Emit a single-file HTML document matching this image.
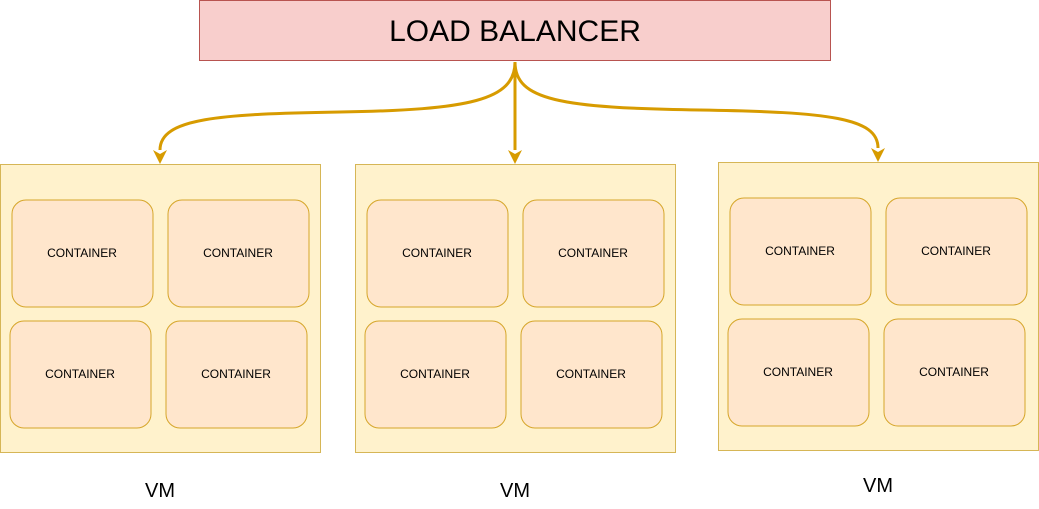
<!DOCTYPE html>
<html><head><style>body{margin:0;background:#fff}</style></head><body>
<svg width="1039" height="504" xmlns="http://www.w3.org/2000/svg" font-family="Liberation Sans, sans-serif">
<rect x="199.5" y="0.5" width="631" height="60" fill="#f8cecc" stroke="#b85450"/>
<text x="515" y="41" font-size="30" text-anchor="middle" fill="#000">LOAD BALANCER</text>
<g fill="none" stroke="#d79b00" stroke-width="3">
<path d="M515,62 C515,100 470,110 340,112 C220,114 160,118 160,150"/>
<path d="M515,62 L515,150"/>
<path d="M515,62 C515,100 560,108 700,110 C830,112 878,118 878,148"/>
</g>
<g fill="#d79b00">
<path d="M153,150 L160,164 L167,150 L160,154 Z"/>
<path d="M508,150 L515,164 L522,150 L515,154 Z"/>
<path d="M871,148 L878,162 L885,148 L878,152 Z"/>
</g>
<g fill="#fff2cc" stroke="#d6b656">
<rect x="0.5" y="164.5" width="320" height="288"/>
<rect x="355.5" y="164.5" width="320" height="288"/>
<rect x="718.5" y="162.5" width="320" height="288"/>
</g>
<g fill="#ffe6cc" stroke="#d6a62a">
<rect x="12" y="200" width="141" height="107" rx="14"/>
<rect x="168" y="200" width="141" height="107" rx="14"/>
<rect x="10" y="321" width="141" height="107" rx="14"/>
<rect x="166" y="321" width="141" height="107" rx="14"/>
<rect x="367" y="200" width="141" height="107" rx="14"/>
<rect x="523" y="200" width="141" height="107" rx="14"/>
<rect x="365" y="321" width="141" height="107" rx="14"/>
<rect x="521" y="321" width="141" height="107" rx="14"/>
<rect x="730" y="198" width="141" height="107" rx="14"/>
<rect x="886" y="198" width="141" height="107" rx="14"/>
<rect x="728" y="319" width="141" height="107" rx="14"/>
<rect x="884" y="319" width="141" height="107" rx="14"/>
</g>
<g font-size="12" text-anchor="middle" fill="#000">
<text x="82" y="257">CONTAINER</text>
<text x="238" y="257">CONTAINER</text>
<text x="80" y="378">CONTAINER</text>
<text x="236" y="378">CONTAINER</text>
<text x="437" y="257">CONTAINER</text>
<text x="593" y="257">CONTAINER</text>
<text x="435" y="378">CONTAINER</text>
<text x="591" y="378">CONTAINER</text>
<text x="800" y="255">CONTAINER</text>
<text x="956" y="255">CONTAINER</text>
<text x="798" y="376">CONTAINER</text>
<text x="954" y="376">CONTAINER</text>
</g>
<g font-size="20" text-anchor="middle" fill="#000">
<text x="160" y="497">VM</text>
<text x="515" y="497">VM</text>
<text x="878" y="492">VM</text>
</g>
</svg>
</body></html>
